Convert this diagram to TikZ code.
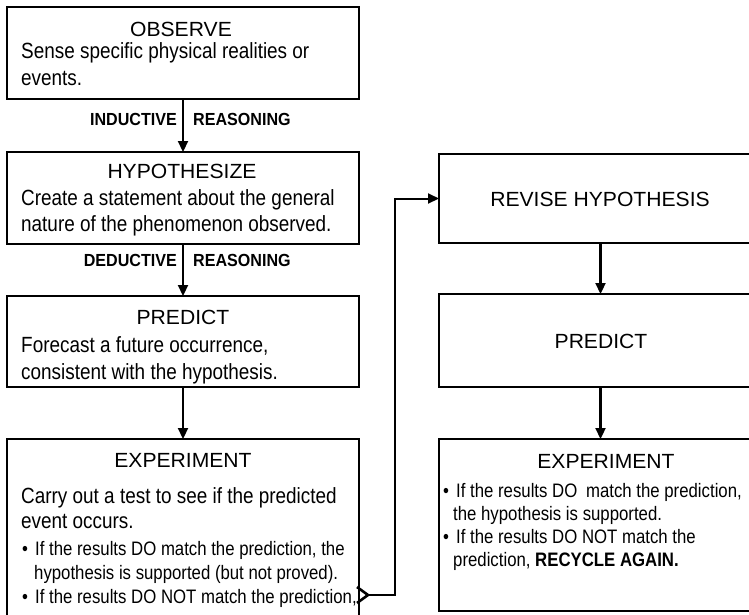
\documentclass[tikz,border=0pt]{standalone}
\usepackage{fontspec}
\setmainfont{Liberation Sans}
\newfontfamily\titlef[FakeStretch=1.03]{Liberation Sans}
\newfontfamily\bodyf[FakeStretch=0.86]{Liberation Sans}
\newfontfamily\lblf[FakeStretch=0.92]{Liberation Sans}
\usetikzlibrary{arrows.meta}
\begin{document}
\begin{tikzpicture}[x=1pt,y=-1pt,
  box/.style={draw, line width=1.4pt, rectangle, anchor=north west, inner sep=0pt, outer sep=0pt},
  ttl/.style={anchor=base, inner sep=0pt, font=\titlef\fontsize{20.5}{24}\selectfont},
  txt/.style={anchor=base west, inner sep=0pt, font=\bodyf\fontsize{22}{24}\selectfont},
  btxt/.style={anchor=base west, inner sep=0pt, font=\bodyf\fontsize{19.5}{22}\selectfont},
  lbl/.style={inner sep=0pt, font=\lblf\bfseries\fontsize{17.5}{19}\selectfont},
  arr/.style={line width=2.2pt, -{Triangle[length=11pt,width=10pt]}},
  chev/.style={line width=2.6pt, line join=miter},
]
\useasboundingbox (0,0) rectangle (749,614);
\clip (0,0) rectangle (749,614);

% left column boxes
\node[box, minimum width=352pt, minimum height=92pt] (obs) at (7,7) {};
\node[box, minimum width=352pt, minimum height=92pt] (hyp) at (7,152) {};
\node[box, minimum width=352pt, minimum height=91pt] (pre) at (7,296) {};
\node[box, minimum width=352pt, minimum height=200pt] (exp) at (7,439) {};

% right column boxes
\node[box, minimum width=323pt, minimum height=89pt] (rev) at (439,154) {};
\node[box, minimum width=323pt, minimum height=93pt] (pre2) at (439,294) {};
\node[box, minimum width=323pt, minimum height=172pt] (exp2) at (439,439) {};

% OBSERVE
\node[ttl] (obsT) at (181,36) {OBSERVE};
\node[txt] (obs1) at (21,58.7) {Sense specific physical realities or};
\node[txt] (obs2) at (21,85) {events.};

% HYPOTHESIZE
\node[ttl] (hypT) at (182,178.3) {HYPOTHESIZE};
\node[txt] (hyp1) at (21,205) {Create a statement about the general};
\node[txt] (hyp2) at (21,231.7) {nature of the phenomenon observed.};

% PREDICT
\node[ttl] (preT) at (183,324.3) {PREDICT};
\node[txt] (pre1) at (21,352) {Forecast a future occurrence,};
\node[txt] (pre2l) at (21,379) {consistent with the hypothesis.};

% EXPERIMENT (left)
\node[ttl] (expT) at (183,467.3) {EXPERIMENT};
\node[txt] (exp1) at (21,503.3) {Carry out a test to see if the predicted};
\node[txt] (exp2l) at (21,528.3) {event occurs.};
\node[btxt] (b1) at (22,555) {•};
\node[btxt] (exp3) at (35,555) {If the results DO match the prediction, the};
\node[btxt] (exp4) at (34,579) {hypothesis is supported (but not proved).};
\node[btxt] (b2) at (22,603.3) {•};
\node[btxt] (exp5) at (35,603.3) {If the results DO NOT match the prediction,};

% right column texts
\node[ttl] (revT) at (600,206) {REVISE HYPOTHESIS};
\node[ttl] (pre2T) at (601,348) {PREDICT};
\node[ttl] (exp2T) at (606,468.3) {EXPERIMENT};
\node[btxt] (b3) at (443,497.3) {•};
\node[btxt] (r1) at (456,497.3) {If the results DO\hspace{0.45em}match the prediction,};
\node[btxt] (r2) at (453,520.7) {the hypothesis is supported.};
\node[btxt] (b4) at (443,543.3) {•};
\node[btxt] (r3) at (456,543.3) {If the results DO NOT match the};
\node[btxt] (r4) at (453,566.7) {prediction, \textbf{RECYCLE AGAIN.}};

% reasoning labels
\node[lbl, anchor=base east] (ind) at (177,125.7) {INDUCTIVE};
\node[lbl, anchor=base west] (rea1) at (193,125.7) {REASONING};
\node[lbl, anchor=base east] (ded) at (177,266.7) {DEDUCTIVE};
\node[lbl, anchor=base west] (rea2) at (193,266.7) {REASONING};

% vertical arrows
\draw[arr] (obs.south) -- (hyp.north);
\draw[arr] (hyp.south) -- (pre.north);
\draw[arr] (pre.south) -- (exp.north);
\draw[arr] (rev.south) -- (pre2.north);
\draw[arr] (pre2.south) -- (exp2.north);

% recycle connector
\coordinate (tail) at (368,595);
\coordinate (bend) at (395,595);
\draw[chev] (tail) ++(-11,-8) -- (tail) -- ++(-11,8);
\draw[arr, line width=2pt] (tail) -- (bend) |- (rev.west);
\end{tikzpicture}
\end{document}
